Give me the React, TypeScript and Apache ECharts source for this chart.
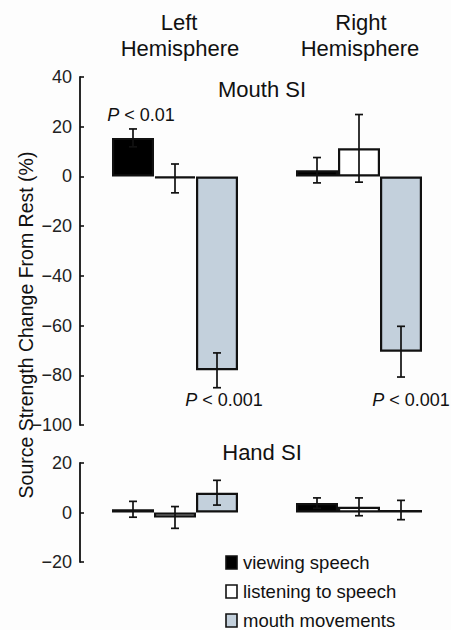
import React, { useEffect, useRef } from "react";
import * as echarts from "echarts";

const hemispheres = ["Left Hemisphere", "Right Hemisphere"];
const seriesNames = ["viewing speech", "listening to speech", "mouth movements"];

// Mouth SI (mean % change, ± error)
const mouthViewing = [15.5, 2.5];
const mouthViewingErr = [3.6, 5.1];
const mouthListening = [-0.8, 11.3];
const mouthListeningErr = [5.8, 13.6];
const mouthMovements = [-78, -70.5];
const mouthMovementsErr = [7, 10.2];

// Hand SI
const handViewing = [1.3, 3.8];
const handViewingErr = [3.2, 2.1];
const handListening = [-2, 2.3];
const handListeningErr = [4.4, 3.6];
const handMovements = [8, 1];
const handMovementsErr = [5, 3.9];

const mouthTicks = { min: -100, max: 40, interval: 20 };
const handTicks = { min: -20, max: 20, interval: 20 };

const FONT = "'Liberation Sans', Arial, Helvetica, sans-serif";
const BAR_W = 42;
const fills = ["#000000", "#ffffff", "#c3d0dc"];

export default function App() {
  const ref = useRef<HTMLDivElement>(null);
  useEffect(() => {
    if (!ref.current) return;
    const chart = echarts.init(ref.current, undefined, { renderer: "svg" });

    const mouthVals = [mouthViewing, mouthListening, mouthMovements];
    const mouthErrs = [mouthViewingErr, mouthListeningErr, mouthMovementsErr];
    const handVals = [handViewing, handListening, handMovements];
    const handErrs = [handViewingErr, handListeningErr, handMovementsErr];

    const series: any[] = [];
    const addPanel = (vals: number[][], errs: number[][], axisIdx: number) => {
      vals.forEach((v, k) => {
        series.push({
          type: "bar",
          name: seriesNames[k],
          xAxisIndex: axisIdx,
          yAxisIndex: axisIdx,
          data: v,
          barWidth: BAR_W,
          barGap: "0%",
          itemStyle: { color: fills[k], borderColor: "#111", borderWidth: 2.2 },
          z: 2,
        });
      });
      vals.forEach((v, k) => {
        const offset = (k - 1) * BAR_W;
        series.push({
          type: "custom",
          xAxisIndex: axisIdx,
          yAxisIndex: axisIdx,
          z: 5,
          data: v.map((m, i) => [i, m - errs[k][i], m + errs[k][i]]),
          renderItem: (params: any, api: any) => {
            const c = api.value(0);
            const lo = api.coord([c, api.value(1)]);
            const hi = api.coord([c, api.value(2)]);
            const x = lo[0] + offset;
            const cap = 4;
            const style = { stroke: "#111", lineWidth: 1.7 };
            return {
              type: "group",
              children: [
                { type: "line", shape: { x1: x, y1: lo[1], x2: x, y2: hi[1] }, style },
                { type: "line", shape: { x1: x - cap, y1: lo[1], x2: x + cap, y2: lo[1] }, style },
                { type: "line", shape: { x1: x - cap, y1: hi[1], x2: x + cap, y2: hi[1] }, style },
              ],
            };
          },
        });
      });
    };
    addPanel(mouthVals, mouthErrs, 0);
    addPanel(handVals, handErrs, 1);

    const yAxisBase = {
      type: "value",
      offset: 3,
      splitLine: { show: false },
      axisLine: { show: true, lineStyle: { color: "#111", width: 1.8 } },
      axisTick: { show: true, inside: true, length: 4, lineStyle: { color: "#111", width: 1.6 } },
      axisLabel: {
        fontSize: 18,
        color: "#222",
        fontFamily: FONT,
        margin: 8,
        formatter: (v: number) => (v < 0 ? "\u2212" + Math.abs(v) : String(v)),
      },
    };

    const pText = (t: string) => `{i|P}{n| < ${t}}`;
    const pRich = {
      i: { fontStyle: "italic", fontSize: 18, fontFamily: FONT, fill: "#111" },
      n: { fontSize: 18, fontFamily: FONT, fill: "#111" },
    };

    const txt = (x: number, y: number, text: string, size: number, extra: any = {}) => ({
      type: "text",
      x,
      y,
      style: {
        text,
        fontSize: size,
        fontFamily: FONT,
        fill: "#111",
        align: "center",
        verticalAlign: "middle",
        ...extra,
      },
    });

    const legendRows = [562.5, 591.5, 620.5];
    const legendGraphics: any[] = [];
    seriesNames.forEach((name, k) => {
      legendGraphics.push({
        type: "rect",
        shape: { x: 226, y: legendRows[k] - 6.5, width: 11, height: 13 },
        style: { fill: fills[k], stroke: "#111", lineWidth: 1.6 },
      });
      legendGraphics.push(txt(243, legendRows[k], name, 18.5, { align: "left" }));
    });

    chart.setOption({
      animation: false,
      backgroundColor: "#fdfdfd",
      grid: [
        { left: 83, top: 77, width: 371, height: 348 },
        { left: 83, top: 463, width: 371, height: 99 },
      ],
      xAxis: [
        { type: "category", gridIndex: 0, data: hemispheres, show: false },
        { type: "category", gridIndex: 1, data: hemispheres, show: false },
      ],
      yAxis: [
        { ...yAxisBase, gridIndex: 0, ...mouthTicks },
        { ...yAxisBase, gridIndex: 1, ...handTicks },
      ],
      graphic: [
        txt(179, 22, "Left", 22),
        txt(180, 48, "Hemisphere", 22),
        txt(361, 22, "Right", 22),
        txt(360, 48, "Hemisphere", 22),
        txt(262, 89, "Mouth SI", 22),
        txt(262, 452, "Hand SI", 22),
        {
          type: "text",
          x: 141,
          y: 115,
          style: { text: pText("0.01"), rich: pRich, align: "center", verticalAlign: "middle" },
        },
        {
          type: "text",
          x: 224,
          y: 400,
          style: { text: pText("0.001"), rich: pRich, align: "center", verticalAlign: "middle" },
        },
        {
          type: "text",
          x: 411,
          y: 400,
          style: { text: pText("0.001"), rich: pRich, align: "center", verticalAlign: "middle" },
        },
        {
          type: "text",
          x: 26,
          y: 325,
          rotation: Math.PI / 2,
          style: {
            text: "Source Strength Change From Rest (%)",
            fontSize: 19.5,
            fontFamily: FONT,
            fill: "#111",
            align: "center",
            verticalAlign: "middle",
          },
        },
        ...legendGraphics,
      ],
      series,
    });
    return () => chart.dispose();
  }, []);
  return (
    <div
      ref={ref}
      style={{ position: "fixed", left: 0, top: 0, width: 451, height: 630 }}
    />
  );
}
